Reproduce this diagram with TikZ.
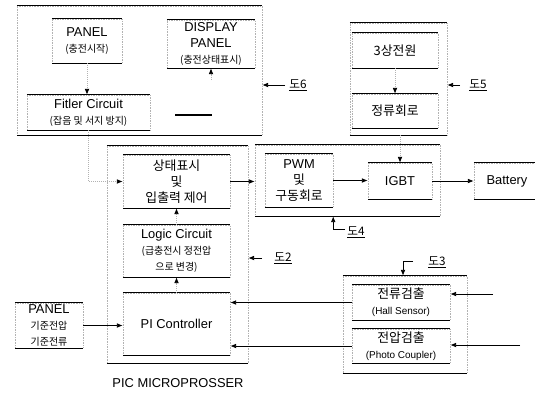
\documentclass[tikz,border=0pt]{standalone}
\usepackage{fontspec}
\setmainfont{Liberation Sans}
\newfontfamily\kr{Noto Sans CJK KR}
\usetikzlibrary{arrows.meta}

\newcommand{\subtxt}[1]{{\fontsize{8.5}{11}\selectfont #1}}

\tikzset{
  blk/.style={draw=black!30, densely dotted, inner sep=0pt, align=center,
    font=\fontsize{11}{13.5}\selectfont, minimum width=#1*0.03cm,
    append after command={(\tikzlastnode.north west) edge[solid, black, line width=1pt] (\tikzlastnode.north east)
      (\tikzlastnode.south west) edge[solid, black, line width=1pt] (\tikzlastnode.south east)}},
  ht/.style={minimum height=#1*0.03cm},
  arr/.style={-{Latex[length=5pt, width=4pt, color=black]}, line width=.7pt},
  varr/.style={arr, draw=black!30, densely dotted},
  tag/.style={font=\kr\fontsize{10}{12}\selectfont}
}

\begin{document}
\begin{tikzpicture}[x=0.03cm, y=-0.03cm]
  \useasboundingbox (0,0) rectangle (535,392);

  % outer groups
  \node[blk=245, ht=129] (topl) at (139.5,70.5) {};
  \node[blk=97, ht=112] (topr) at (398.5,79) {};
  \node[blk=141, ht=217] (pic) at (177.5,254.5) {};
  \node[blk=185, ht=71] (drv) at (347.5,180.5) {};
  \node[blk=124, ht=97] (sens) at (405,324.5) {};

  % blocks
  \node[blk=70, ht=44] (panel) at (87,41) {PANEL\\\subtxt{\kr (충전시작)}};
  \node[blk=88, ht=48] (disp) at (211,44) {DISPLAY\\PANEL\\\subtxt{\kr (충전상태표시)}};
  \node[blk=123, ht=35] (filter) at (88.5,112.5) {Fitler Circuit\\\subtxt{\kr (잡음 및 서지 방지)}};
  \node[blk=86, ht=35] (src) at (395,50.5) {\kr 3상전원};
  \node[blk=86, ht=34] (rect) at (395,111) {\kr 정류회로};
  \node[blk=107, ht=53] (state) at (176.5,181.5) {\kr 상태표시\\\kr 및\\\kr 입출력 제어};
  \node[blk=107, ht=52] (logic) at (176.5,251) {Logic Circuit\\\subtxt{\kr (급충전시 정전압}\\\subtxt{\kr 으로 변경)}};
  \node[blk=107, ht=62] (pi) at (176.5,324) {PI Controller};
  \node[blk=68, ht=45] (ref) at (49,325.5) {PANEL\\\subtxt{\kr 기준전압}\\\subtxt{\kr 기준전류}};
  \node[blk=68, ht=53] (pwm) at (299,180.5) {PWM\\\kr 및\\\kr 구동회로};
  \node[blk=64, ht=36] (igbt) at (400,181) {IGBT};
  \node[blk=66, ht=36] (batt) at (507,181) {Battery};
  \node[blk=98, ht=35] (isens) at (401,302.5) {\kr 전류검출\\\subtxt{(Hall Sensor)}};
  \node[blk=98, ht=34] (vsens) at (401,346) {\kr 전압검출\\\subtxt{(Photo Coupler)}};
  \node[font=\fontsize{11}{13}\selectfont] (piclbl) at (178,383) {PIC MICROPROSSER};

  % figure references
  \node[tag] (t6) at (298,85) {\underline{도6}};
  \node[tag] (t5) at (478,85) {\underline{도5}};
  \node[tag] (t4) at (356,232) {\underline{도4}};
  \node[tag] (t2) at (283,258) {\underline{도2}};
  \node[tag] (t3) at (437,262) {\underline{도3}};
  \coordinate (c6) at (285,85);
  \coordinate (c5) at (460,85);
  \coordinate (c4) at (345,229);
  \coordinate (c2) at (262,258);
  \coordinate (c3) at (413,261);
  \coordinate (cd) at (211,80);
  \coordinate (in1) at (493,294);
  \coordinate (in2) at (520,345);

  % connections
  \draw[varr] (panel) -- (panel.south |- filter.north);
  \draw[varr] (cd) -- (disp.south);
  \draw[line width=1pt] (175,115) -- (212,115);
  \draw[arr] (c6) -- (c6 -| topl.east);
  \draw[arr] (c5) -- (c5 -| topr.east);
  \draw[varr] (src) -- (rect);
  \draw[varr] (igbt.north |- topr.south) -- (igbt.north);
  \draw[varr] (filter.south) |- (state.west);
  \draw[arr] (state.east) -- (state.east -| drv.west);
  \draw[arr] (pwm.east) -- (pwm.east -| igbt.west);
  \draw[arr] (igbt.east) -- (igbt.east -| batt.west);
  \draw[varr] (logic) -- (state);
  \draw[varr] (pi) -- (logic);
  \draw[arr] (ref.east) -- (ref.east -| pi.west);
  \draw[arr] (isens.west) -- (isens.west -| pi.east);
  \draw[arr] (vsens.west) -- (vsens.west -| pi.east);
  \draw[arr] (in1) -- (in1 -| isens.east);
  \draw[arr] (in2) -- (in2 -| vsens.east);
  \draw[arr] (c4) -| (drv.south -| pwm.east);
  \draw[arr] (c2) -- (c2 -| pic.east);
  \draw[arr] (c3) -| (sens.north -| 403,0);
\end{tikzpicture}
\end{document}
